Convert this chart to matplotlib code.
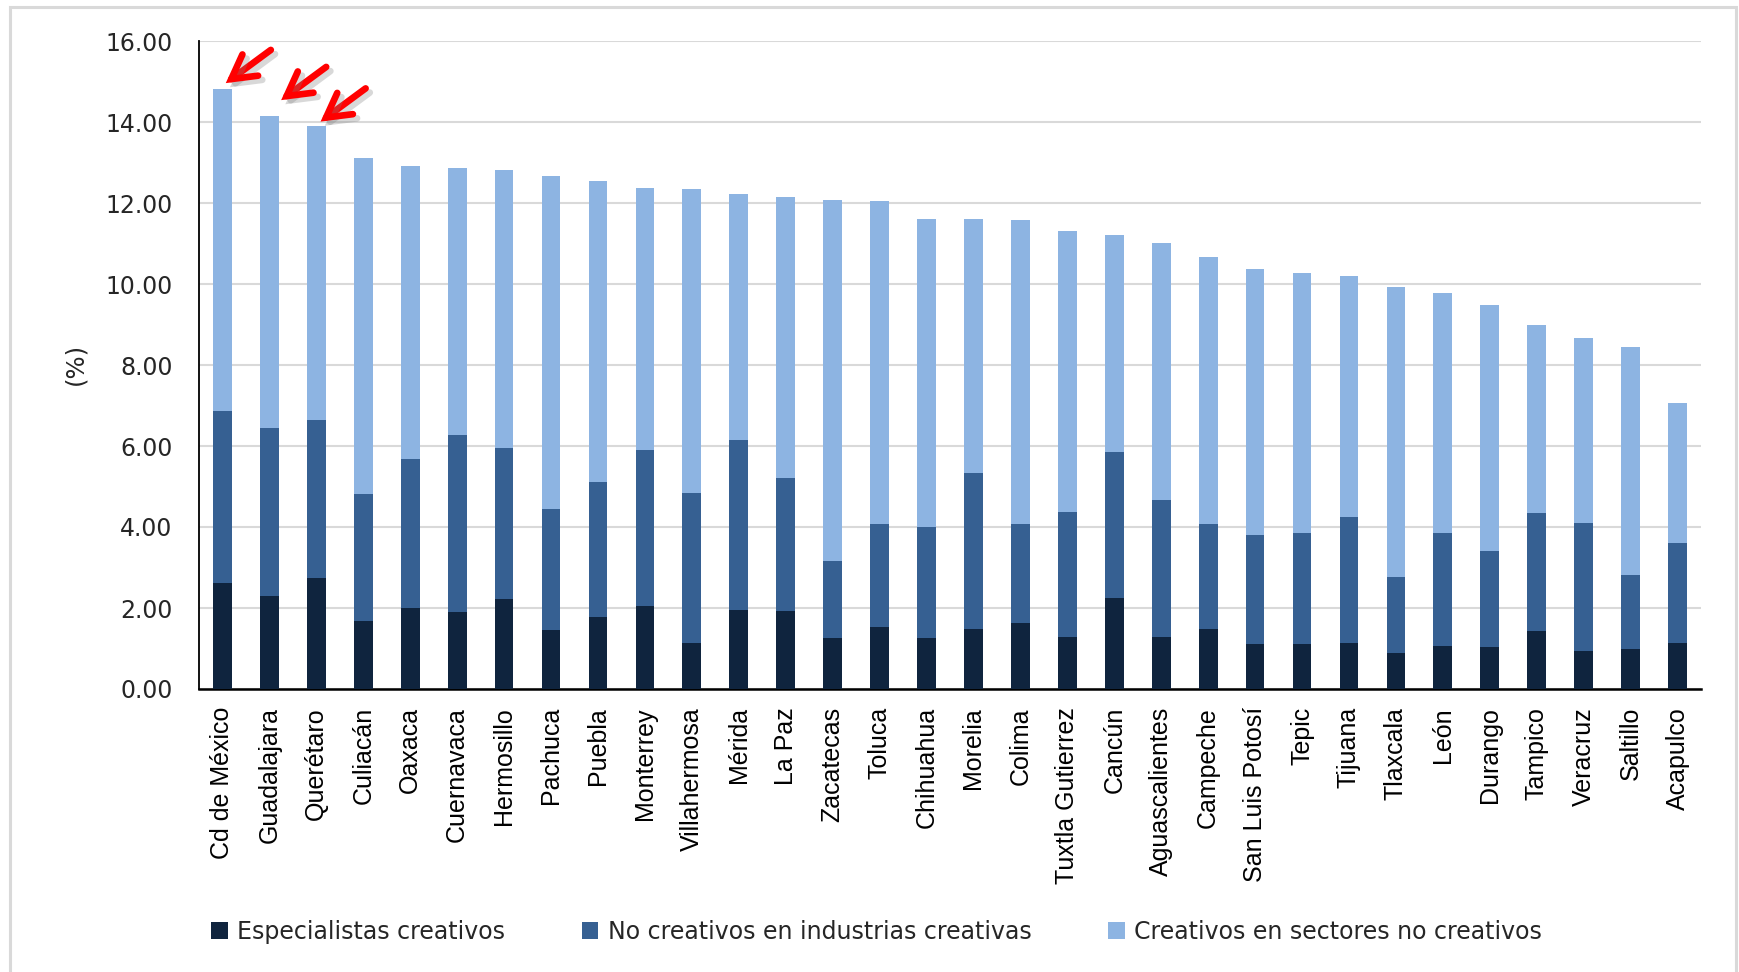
import matplotlib
matplotlib.use("Agg")
import matplotlib.pyplot as plt
from matplotlib.patches import Patch, Rectangle
import matplotlib.patheffects as pe
import numpy as np

ciudades = [
    "Cd de México", "Guadalajara", "Querétaro", "Culiacán", "Oaxaca",
    "Cuernavaca", "Hermosillo", "Pachuca", "Puebla", "Monterrey",
    "Villahermosa", "Mérida", "La Paz", "Zacatecas", "Toluca",
    "Chihuahua", "Morelia", "Colima", "Tuxtla Gutierrez", "Cancún",
    "Aguascalientes", "Campeche", "San Luis Potosí", "Tepic", "Tijuana",
    "Tlaxcala", "León", "Durango", "Tampico", "Veracruz", "Saltillo",
    "Acapulco",
]

especialistas = [
    2.62, 2.30, 2.73, 1.68, 2.00, 1.89, 2.22, 1.46, 1.78, 2.06,
    1.14, 1.95, 1.92, 1.25, 1.52, 1.25, 1.49, 1.62, 1.29, 2.25,
    1.29, 1.47, 1.11, 1.11, 1.14, 0.89, 1.07, 1.04, 1.44, 0.93,
    1.00, 1.14,
]

no_creativos_ind = [
    4.24, 4.15, 3.90, 3.13, 3.69, 4.38, 3.72, 2.98, 3.32, 3.85,
    3.71, 4.21, 3.30, 1.92, 2.56, 2.75, 3.84, 2.46, 3.08, 3.59,
    3.37, 2.60, 2.70, 2.74, 3.11, 1.87, 2.78, 2.37, 2.91, 3.17,
    1.82, 2.46,
]

creativos_sect = [
    7.95, 7.70, 7.26, 8.31, 7.22, 6.60, 6.87, 8.22, 7.45, 6.46,
    7.49, 6.07, 6.94, 8.91, 7.97, 7.61, 6.28, 7.50, 6.95, 5.37,
    6.36, 6.60, 6.56, 6.42, 5.94, 7.17, 5.94, 6.06, 4.64, 4.57,
    5.62, 3.46,
]

series_names = [
    "Especialistas creativos",
    "No creativos en industrias creativas",
    "Creativos en sectores no creativos",
]
colores = ["#0F243E", "#366092", "#8DB4E2"]

y_ticks = [0, 2, 4, 6, 8, 10, 12, 14, 16]
destacadas = [0, 1, 2]

W, H = 1739, 972
fig = plt.figure(figsize=(W / 100, H / 100), dpi=100)
fig.patch.set_facecolor("white")

# light frame around the chart area
fig.patches.append(Rectangle((10 / W, -0.05), (1736 - 10) / W, 1 - 7 / H + 0.05,
                             transform=fig.transFigure, fill=False,
                             edgecolor="#D9D9D9", linewidth=2.2, zorder=0))

ax = fig.add_axes([199 / W, 1 - 689 / H, 1502 / W, 648 / H])

x = np.arange(len(ciudades))
e = np.array(especialistas)
n = np.array(no_creativos_ind)
c = np.array(creativos_sect)
ancho = 0.4
ax.bar(x, e, width=ancho, color=colores[0], zorder=3)
ax.bar(x, n, width=ancho, bottom=e, color=colores[1], zorder=3)
ax.bar(x, c, width=ancho, bottom=e + n, color=colores[2], zorder=3)

ax.set_xlim(-0.5, len(ciudades) - 0.5)
ax.set_ylim(0, 16)
ax.set_yticks(y_ticks)
ax.set_yticklabels([f"{v:.2f}" for v in y_ticks], fontfamily="DejaVu Sans",
                   fontsize=17, color="#262626")
ax.tick_params(axis="y", length=0, pad=19)
ax.set_xticks(x)
ax.set_xticklabels(ciudades, rotation=90, fontfamily="Liberation Sans",
                   fontsize=18, color="black")
ax.tick_params(axis="x", length=0, pad=13)

ax.yaxis.grid(True, color="#D9D9D9", linewidth=1.5, zorder=0)
ax.set_axisbelow(True)
for s in ["top", "right"]:
    ax.spines[s].set_visible(False)
ax.spines["left"].set_color("black")
ax.spines["left"].set_linewidth(1.3)
ax.spines["bottom"].set_color("black")
ax.spines["bottom"].set_linewidth(1.8)

fig.text(75 / W, 1 - 364 / H, "(%)", rotation=90, ha="center", va="center",
         fontfamily="DejaVu Sans", fontsize=17.5, color="#262626")

# red arrows pointing at the three highest bars
totales = e + n + c
tip_dx = [0.07, 0.25, 0.09]
tip_dy = [0.15, 0.39, 0.12]
for k, i in enumerate(destacadas):
    tip = (i + tip_dx[k], totales[i] + tip_dy[k])
    tail = (tip[0] + 0.96, tip[1] + 0.82)
    ax.annotate("", xy=tip, xytext=tail,
                arrowprops=dict(arrowstyle="->,head_length=1.7,head_width=0.95",
                                color="#FF0000", lw=4.8,
                                shrinkA=0, shrinkB=0,
                                capstyle="round", joinstyle="miter",
                                path_effects=[pe.SimpleLineShadow(offset=(3, -3), shadow_color="gray", alpha=0.3),
                                              pe.Normal()]),
                zorder=5, annotation_clip=False)

handles = [Patch(facecolor=col, edgecolor="none") for col in colores]
fig.legend(handles, series_names, loc="center left",
           bbox_to_anchor=(211 / W, 1 - 932 / H), ncol=3, frameon=False,
           prop={"family": "DejaVu Sans", "size": 17}, handlelength=0.7,
           handleheight=0.7, handletextpad=0.4, columnspacing=3.25,
           borderpad=0, borderaxespad=0, labelcolor="#262626")

fig.savefig("out.png", dpi=100, facecolor="white")
